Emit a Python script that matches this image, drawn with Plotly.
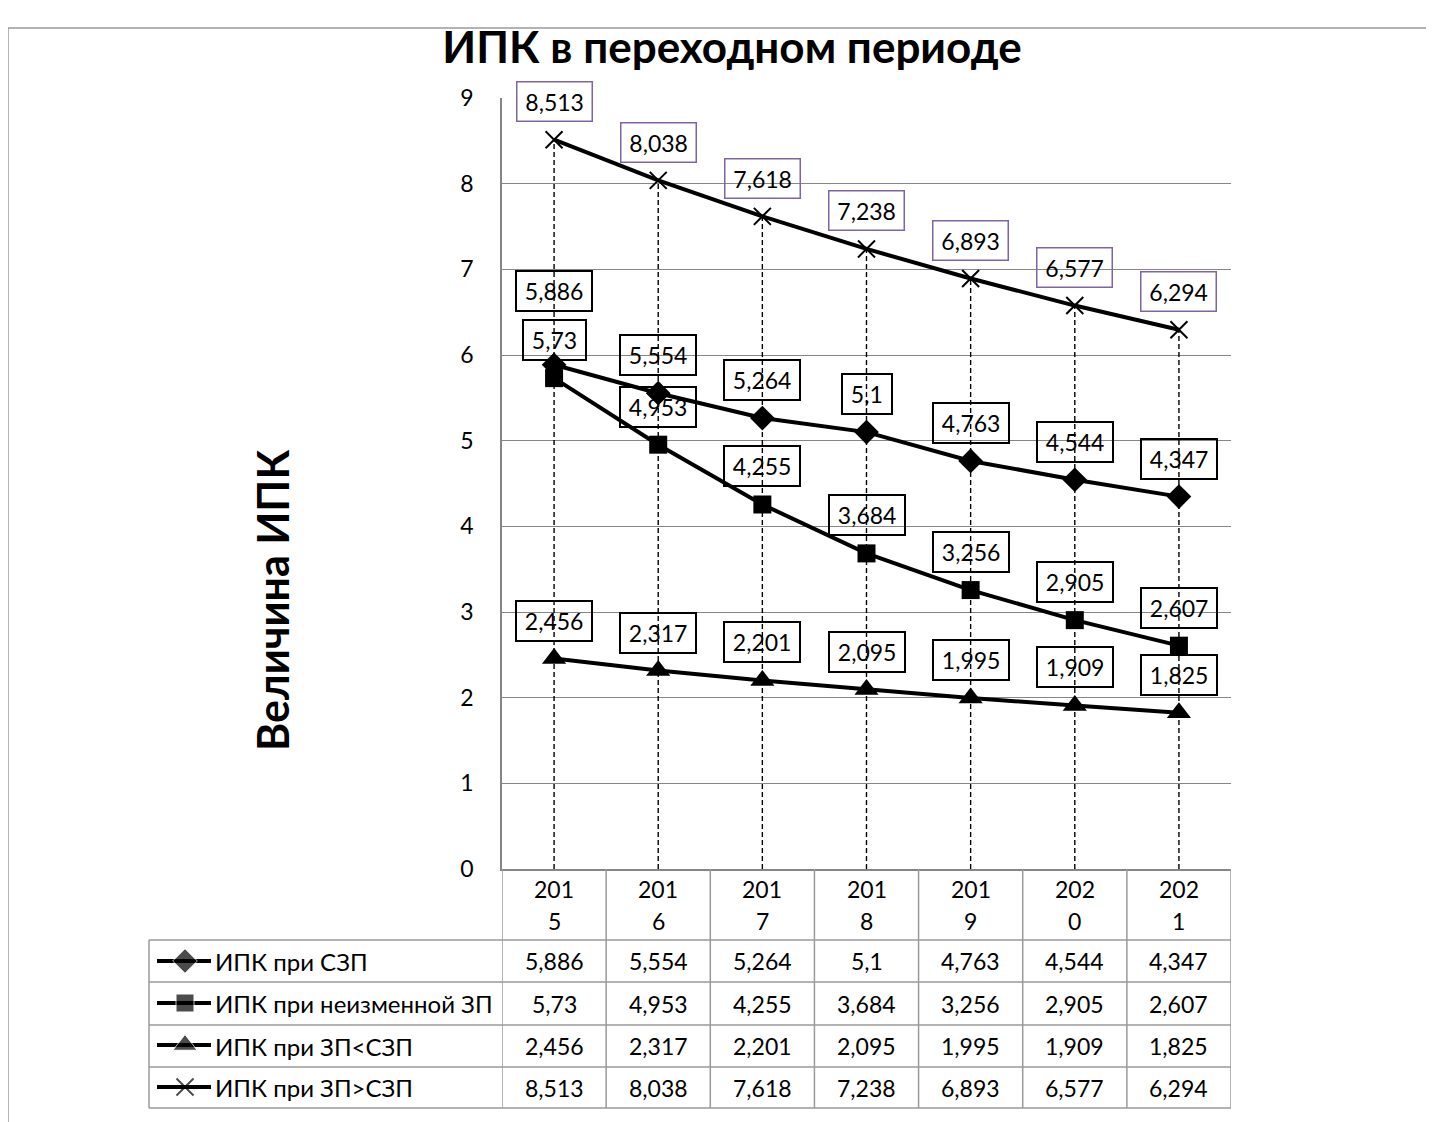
import plotly.graph_objects as go

# --- data ---
years = ["2015", "2016", "2017", "2018", "2019", "2020", "2021"]
series_names = [
    "ИПК при СЗП",
    "ИПК при неизменной ЗП",
    "ИПК при ЗП<СЗП",
    "ИПК при ЗП>СЗП",
]
ipk_szp = [5.886, 5.554, 5.264, 5.1, 4.763, 4.544, 4.347]
ipk_fixed = [5.73, 4.953, 4.255, 3.684, 3.256, 2.905, 2.607]
ipk_low = [2.456, 2.317, 2.201, 2.095, 1.995, 1.909, 1.825]
ipk_high = [8.513, 8.038, 7.618, 7.238, 6.893, 6.577, 6.294]
y_ticks = [0, 1, 2, 3, 4, 5, 6, 7, 8, 9]

series_values = [ipk_szp, ipk_fixed, ipk_low, ipk_high]

# --- styling ---
OFF = 8                                  # page body margin
W, H = 1434 - OFF, 1122 - OFF
L, R, T, B = 502, 1231, 98, 869          # plot area in screen pixels
FONT = "Lato"
TXT = 23
GRID = "#868686"
markers = [
    dict(symbol="diamond", size=19),
    dict(symbol="square", size=18),
    dict(symbol="triangle-up", size=21),
    dict(symbol="x-thin", size=17, line=dict(color="black", width=2)),
]
label_border = ["black", "black", "black", "#8064A2"]
label_border_w = [2, 2, 2, 1.5]
label_shift = {(0, 0): 74}               # special offset for one overlapping label


def fx(p):
    return (p - OFF) / W


def fy(p):
    return 1 - (p - OFF) / H


x_idx = list(range(len(years)))

fig = go.Figure()

# drop lines from the top series down to the axis
drop_x, drop_y = [], []
for i, v in zip(x_idx, ipk_high):
    drop_x += [i, i, None]
    drop_y += [0, v, None]
fig.add_trace(go.Scatter(
    x=drop_x, y=drop_y, mode="lines",
    line=dict(color="black", width=1.4, dash="5px,3px"),
    hoverinfo="skip", showlegend=False,
))

for name, vals, mk in zip(series_names, series_values, markers):
    fig.add_trace(go.Scatter(
        x=x_idx, y=vals, mode="lines+markers", name=name,
        line=dict(color="black", width=4),
        marker=dict(color="black", **mk),
        showlegend=False,
    ))

annotations = []

# data labels
for s, vals in enumerate(series_values):
    for i, v in enumerate(vals):
        annotations.append(dict(
            x=i, y=v, xref="x", yref="y",
            text="\u2009" + f"{v:g}".replace(".", ",") + "\u2009",
            showarrow=False, yshift=label_shift.get((s, i), 38),
            font=dict(family=FONT, size=TXT, color="black"),
            bordercolor=label_border[s], borderwidth=label_border_w[s],
            borderpad=5,
        ))

# data table: header with wrapped years
for i, yr in enumerate(years):
    annotations.append(dict(
        x=i, y=fy(889), xref="x", yref="paper", text=yr[:3], showarrow=False,
        font=dict(family=FONT, size=TXT, color="black"), yanchor="middle",
    ))
    annotations.append(dict(
        x=i, y=fy(921), xref="x", yref="paper", text=yr[3:], showarrow=False,
        font=dict(family=FONT, size=TXT, color="black"), yanchor="middle",
    ))

row_lines = [940, 982, 1025, 1067, 1108]
row_centers = [(a + b) / 2 for a, b in zip(row_lines[:-1], row_lines[1:])]

for r, (name, vals) in enumerate(zip(series_names, series_values)):
    annotations.append(dict(
        x=fx(213), y=fy(row_centers[r]), xref="paper", yref="paper",
        text=name, showarrow=False, xanchor="left", yanchor="middle",
        font=dict(family=FONT, size=24, color="black"),
    ))
    for i, v in enumerate(vals):
        annotations.append(dict(
            x=i, y=fy(row_centers[r]), xref="x", yref="paper",
            text=f"{v:g}".replace(".", ","), showarrow=False, yanchor="middle",
            font=dict(family=FONT, size=TXT, color="black"),
        ))

# y-axis title
annotations.append(dict(
    x=fx(272), y=fy(601), xref="paper", yref="paper",
    xanchor="center", yanchor="middle",
    text="<b>Величина ИПК</b>", textangle=-90, showarrow=False,
    font=dict(family=FONT, size=43, color="black"),
))

shapes = []
tcol = "#9a9a9a"
# horizontal table lines
for yl in row_lines:
    shapes.append(dict(type="line", xref="paper", yref="paper",
                       x0=fx(149), x1=fx(R), y0=fy(yl), y1=fy(yl),
                       line=dict(color=tcol, width=1.5)))
# column dividers
for k in range(len(years) + 1):
    shapes.append(dict(type="line", xref="x", yref="paper",
                       x0=k - 0.5, x1=k - 0.5, y0=fy(B), y1=fy(row_lines[-1]),
                       line=dict(color=tcol, width=1.5)))
shapes.append(dict(type="line", xref="paper", yref="paper",
                   x0=fx(149), x1=fx(149), y0=fy(row_lines[0]), y1=fy(row_lines[-1]),
                   line=dict(color=tcol, width=1.5)))
# chart frame
shapes.append(dict(type="line", xref="paper", yref="paper",
                   x0=fx(8), x1=1, y0=fy(28), y1=fy(28),
                   line=dict(color=tcol, width=1.5)))
shapes.append(dict(type="line", xref="paper", yref="paper",
                   x0=fx(8), x1=fx(8), y0=fy(28), y1=0,
                   line=dict(color=tcol, width=1.5)))

# legend keys inside the table
for r, mk in enumerate(markers):
    key_mk = dict(mk)
    key_mk["size"] = [0, mk["size"], 0]
    fig.add_trace(go.Scatter(
        x=[8, 36, 62], y=[r, r, r], mode="lines+markers",
        line=dict(color="black", width=4),
        marker=dict(color="black", **key_mk),
        xaxis="x2", yaxis="y2", hoverinfo="skip", showlegend=False,
    ))

fig.update_layout(
    width=W, height=H,
    margin=dict(l=0, r=0, t=0, b=0),
    paper_bgcolor="white", plot_bgcolor="white",
    title=dict(text="<b>ИПК в переходном периоде</b>", x=fx(732), y=fy(48),
               xanchor="center", yanchor="middle",
               font=dict(family=FONT, size=44, color="black")),
    xaxis=dict(domain=[fx(L), fx(R)], range=[-0.5, len(years) - 0.5],
               showticklabels=False, showgrid=False, zeroline=False,
               showline=True, linecolor=GRID, linewidth=1.5, ticks=""),
    yaxis=dict(domain=[fy(B), fy(T)], range=[0, 9], tickvals=y_ticks,
               showgrid=True, gridcolor=GRID, gridwidth=1, zeroline=False,
               showline=True, linecolor=GRID, linewidth=1.5,
               tickfont=dict(family=FONT, size=23, color="black"),
               ticklabelstandoff=22, automargin=False),
    xaxis2=dict(domain=[fx(149), fx(L)], range=[0, L - 149], visible=False,
                anchor="y2", fixedrange=True),
    yaxis2=dict(domain=[fy(row_lines[-1]), fy(row_lines[0])], range=[3.5, -0.5],
                visible=False, anchor="x2", fixedrange=True),
    annotations=annotations,
    shapes=shapes,
    showlegend=False,
)

fig.write_html("out.html")
